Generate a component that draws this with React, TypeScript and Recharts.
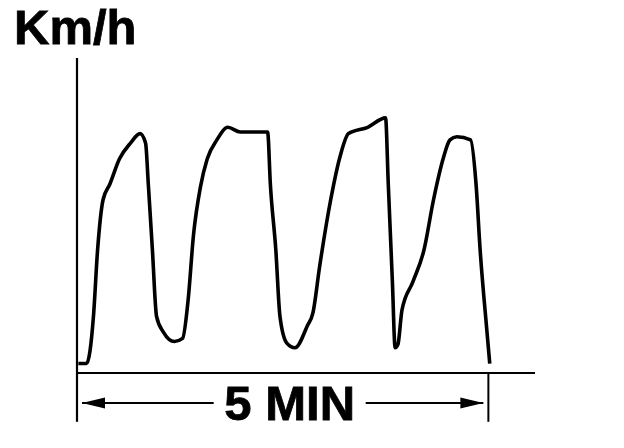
import { LineChart, Line, XAxis, YAxis, ReferenceLine } from "recharts";

// time in seconds (5 min run), speed in arbitrary km/h units
const TIMES = [
  1, 7, 12, 15, 19, 24, 31, 39, 46, 50, 52, 55, 58, 63, 71, 77, 81, 85, 90, 95,
  102, 110, 119, 139, 141, 145, 148, 153, 159, 168, 172, 177, 185, 192, 198,
  212, 225, 227, 230, 232, 234, 237, 245, 253, 260, 267, 272, 277, 287, 291,
  294, 299, 301,
];
const SPEEDS = [
  3, 3, 18, 39, 55, 60, 68, 73, 76, 73, 60, 39, 18, 13, 10, 11, 23, 44, 59, 68,
  74, 78, 76.5, 76.5, 60, 39, 18, 9.5, 8, 15, 19, 34, 55, 69, 76, 78, 81, 60,
  29, 8, 9, 20, 29, 39, 55, 68, 74, 75, 74, 60, 39, 13, 3,
];

const X_MAX = 334;
const Y_MAX = 100;
const SPAN_START = 0;
const SPAN_END = 300;
const SPAN_LABEL = "5 MIN";
const TITLE = "Km/h";

const data = TIMES.map((t, i) => ({ t, v: SPEEDS[i] }));

const FONT = "'Liberation Sans', Arial, sans-serif";

const DimArrow = (props: any) => {
  const { x1, y1, x2 } = props;
  const a1 = x1 + 5;
  const a2 = x2 - 5;
  const mid = (a1 + a2) / 2 + 7;
  return (
    <g>
      <line x1={a1} y1={y1} x2={a2} y2={y1} stroke="#000" strokeWidth={2} />
      <polygon points={`${a1},${y1} ${a1 + 23},${y1 - 5.5} ${a1 + 23},${y1 + 5.5}`} fill="#000" />
      <polygon points={`${a2},${y1} ${a2 - 23},${y1 - 5.5} ${a2 - 23},${y1 + 5.5}`} fill="#000" />
      <rect x={mid - 76} y={y1 - 22} width={152} height={44} fill="#fff" />
      <text
        x={mid}
        y={y1 + 17}
        textAnchor="middle"
        fontFamily={FONT}
        fontWeight="bold"
        fontSize={49}
        fill="#000"
        stroke="#000"
        strokeWidth={0.8}
      >
        {SPAN_LABEL}
      </text>
    </g>
  );
};

export default function App() {
  return (
    <div style={{ position: "absolute", left: 0, top: 0, width: 624, height: 448, background: "#fff" }}>
      <div
        style={{
          position: "absolute",
          left: 14,
          top: 3,
          fontFamily: FONT,
          fontWeight: "bold",
          fontSize: 49,
          lineHeight: "49px",
          color: "#000",
          WebkitTextStroke: "0.8px #000",
        }}
      >
        {TITLE}
      </div>
      <LineChart width={624} height={448} data={data} margin={{ top: 58, right: 89, bottom: 74, left: 76 }}>
        <XAxis
          type="number"
          dataKey="t"
          domain={[0, X_MAX]}
          height={1}
          tick={false}
          tickLine={false}
          axisLine={{ stroke: "#000", strokeWidth: 2.2 }}
        />
        <YAxis
          type="number"
          domain={[0, Y_MAX]}
          width={1}
          tick={false}
          tickLine={false}
          axisLine={{ stroke: "#000", strokeWidth: 2.2 }}
        />
        <ReferenceLine
          segment={[{ x: SPAN_START, y: 0 }, { x: SPAN_START, y: -15.5 }]}
          stroke="#000"
          strokeWidth={2.2}
          ifOverflow="visible"
        />
        <ReferenceLine
          segment={[{ x: SPAN_END, y: 0 }, { x: SPAN_END, y: -15.5 }]}
          stroke="#000"
          strokeWidth={2}
          ifOverflow="visible"
        />
        <ReferenceLine
          segment={[{ x: SPAN_START, y: -9.5 }, { x: SPAN_END, y: -9.5 }]}
          ifOverflow="visible"
          shape={DimArrow}
        />
        <Line
          type="monotone"
          dataKey="v"
          stroke="#000"
          strokeWidth={3.6}
          dot={false}
          isAnimationActive={false}
        />
      </LineChart>
    </div>
  );
}
